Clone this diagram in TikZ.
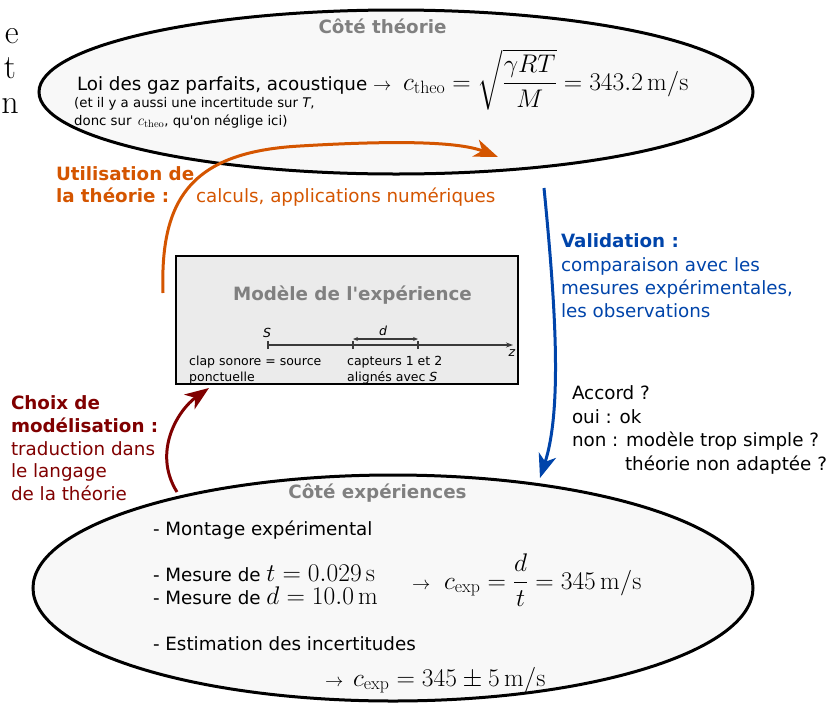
\RequirePackage{fix-cm}
\documentclass[tikz,border=0pt]{standalone}
\usepackage{amsmath}
\usepackage[no-math]{fontspec}
\setmainfont{DejaVu Sans}[Ligatures=TeXOff]
\usetikzlibrary{arrows.meta,shapes.geometric}
\definecolor{orng}{HTML}{D45500}
\definecolor{blu}{HTML}{0044AA}
\definecolor{dred}{HTML}{800000}
\definecolor{ttlgray}{HTML}{808080}
\definecolor{ellfill}{HTML}{F8F8F8}
\definecolor{boxfill}{HTML}{EBEBEB}
\definecolor{axisgray}{HTML}{3A3A3A}
\newcommand{\BigMath}[1]{{\fontsize{25.5}{30}\selectfont$#1$}}
\begin{document}
\begin{tikzpicture}[x=1pt,y=-1pt,
  txt/.style={anchor=base west, inner sep=0pt, outer sep=0pt, font=\fontsize{18.3}{22}\selectfont},
  boldtxt/.style={txt, font=\fontsize{18.3}{22}\selectfont\bfseries},
  ttl/.style={anchor=base, inner sep=0pt, font=\fontsize{18.3}{22}\selectfont\bfseries, text=ttlgray},
  sml/.style={anchor=base west, inner sep=0pt, font=\fontsize{13.3}{16}\selectfont},
  tinytxt/.style={anchor=base west, inner sep=0pt, font=\fontsize{12.5}{15}\selectfont},
  frag/.style={anchor=base east, inner sep=0pt, font=\fontfamily{lmr}\fontsize{34}{40}\selectfont},
  arr/.style={line width=3pt, -{Stealth[length=24pt,width=18pt,inset=7pt]}},
  ell/.style={ellipse, draw, line width=3pt, fill=ellfill, inner sep=0pt},
  axisline/.style={draw=axisgray, line width=1.2pt},
]
\useasboundingbox (0,0) rectangle (830,702);
\clip (0,0) rectangle (830,702);

% stray letters of the surrounding page
\node[frag] (f1) at (19,43) {e};
\node[frag] (f2) at (16,78) {t};
\node[frag] (f3) at (19,113) {n};

% ellipses and box
\node[ell, minimum width=714pt, minimum height=164pt] (theo) at (396,92) {};
\node[ell, minimum width=720pt, minimum height=226pt] (exp) at (393,588) {};
\node[draw, line width=2pt, fill=boxfill, minimum width=342pt, minimum height=128pt, inner sep=0pt] (model) at (347,320) {};

% top ellipse content
\node[ttl] (ttheo) at (382.5,33) {Côté théorie};
\node[txt] (loi) at (77,90) {Loi des gaz parfaits, acoustique $\rightarrow$};
\node[anchor=base west, inner sep=0pt] (ctheo) at (403,90) {\BigMath{c_{\mathrm{theo}} = \sqrt{\dfrac{\gamma RT}{M}} = 343.2\,\mathrm{m/s}}};
\node[sml] (inc1) at (74,107) {(et il y a aussi une incertitude sur \textit{T},};
\node[sml] (inc2) at (74,125) {donc sur \hspace{2pt}{\fontsize{15}{18}\selectfont$c_{\mathrm{theo}}$}, qu'on néglige ici)};

% model box content
\node[ttl] (tmod) at (352.5,300) {Modèle de l'expérience};
\coordinate (S) at (268,345);
\coordinate (Z) at (513,345);
\coordinate (c1) at (353,345);
\coordinate (c2) at (418,345);
\draw[axisline, -{Stealth[length=7pt,width=5pt]}] (S) -- (Z);
\draw[axisline] ([yshift=-4pt]S) -- ([yshift=4pt]S);
\draw[axisline] ([yshift=-4pt]c1) -- ([yshift=4pt]c1);
\draw[axisline] ([yshift=-4pt]c2) -- ([yshift=4pt]c2);
\draw[axisline, {Stealth[length=5pt,width=4pt]}-{Stealth[length=5pt,width=4pt]}] ([yshift=6pt]c1) -- ([yshift=6pt]c2);
\node[tinytxt, anchor=base] (lS) at (267,337) {\textit{S}};
\node[tinytxt, anchor=base] (ld) at (383,335) {\textit{d}};
\node[tinytxt, anchor=base] (lz) at (512,356) {\textit{z}};
\node[tinytxt] (clap1) at (189,365) {clap sonore = source};
\node[tinytxt] (clap2) at (189,381) {ponctuelle};
\node[tinytxt] (cap1) at (347,365) {capteurs 1 et 2};
\node[tinytxt] (cap2) at (347,381) {alignés avec \textit{S}};

% arrows
\coordinate (oA) at (163,293);
\coordinate (oB) at (498,157);
\draw[arr, orng] (oA) .. controls (160,200) and (190,152) .. (300,146) .. controls (400,140) and (460,142) .. (oB);
\coordinate (bA) at (544,188);
\coordinate (bB) at (540,478);
\draw[arr, blu] (bA) .. controls (556,310) and (562,410) .. (bB);
\coordinate (rA) at (177,492);
\coordinate (rB) at (209,388);
\draw[arr, dred] (rA) .. controls (152,452) and (178,410) .. (rB);

% orange label
\node[boldtxt, text=orng] (u1) at (56,180) {Utilisation de};
\node[boldtxt, text=orng] (u2) at (56,202) {la théorie :};
\node[txt, text=orng] (u3) at (196,202) {calculs, applications numériques};

% blue label
\node[boldtxt, text=blu] (v1) at (561,247) {Validation :};
\node[txt, text=blu] (v2) at (561,271) {comparaison avec les};
\node[txt, text=blu] (v3) at (561,294) {mesures expérimentales,};
\node[txt, text=blu] (v4) at (561,317) {les observations};

% agreement
\node[txt] (a1) at (572,399) {Accord ?};
\node[txt] (a2) at (572,423) {oui : ok};
\node[txt] (a3) at (572,446) {non : modèle trop simple ?};
\node[txt] (a4) at (625,470) {théorie non adaptée ?};

% dark red label
\node[boldtxt, text=dred] (ch1) at (11,409) {Choix de};
\node[boldtxt, text=dred] (ch2) at (11,432) {modélisation :};
\node[txt, text=dred] (ch3) at (11,455) {traduction dans};
\node[txt, text=dred] (ch4) at (11,477) {le langage};
\node[txt, text=dred] (ch5) at (11,500) {de la théorie};

% bottom ellipse content
\node[ttl] (texp) at (377.5,498) {Côté expériences};
\node[txt] (m1) at (153,535) {- Montage expérimental};
\node[txt] (m2) at (153,581) {- Mesure de \BigMath{t = 0.029\,\mathrm{s}}};
\node[txt] (m3) at (153,604) {- Mesure de \BigMath{d = 10.0\,\mathrm{m}}};
\node[txt] (arrexp) at (412,589) {$\rightarrow$};
\node[anchor=base west, inner sep=0pt] (cexp) at (444,589) {\BigMath{c_{\mathrm{exp}} = \dfrac{d}{t} = 345\,\mathrm{m/s}}};
\node[txt] (m4) at (153,650) {- Estimation des incertitudes};
\node[txt] (arrres) at (325,686) {$\rightarrow$};
\node[anchor=base west, inner sep=0pt] (res) at (353,686) {\BigMath{c_{\mathrm{exp}} = 345 \pm 5\,\mathrm{m/s}}};
\end{tikzpicture}
\end{document}
